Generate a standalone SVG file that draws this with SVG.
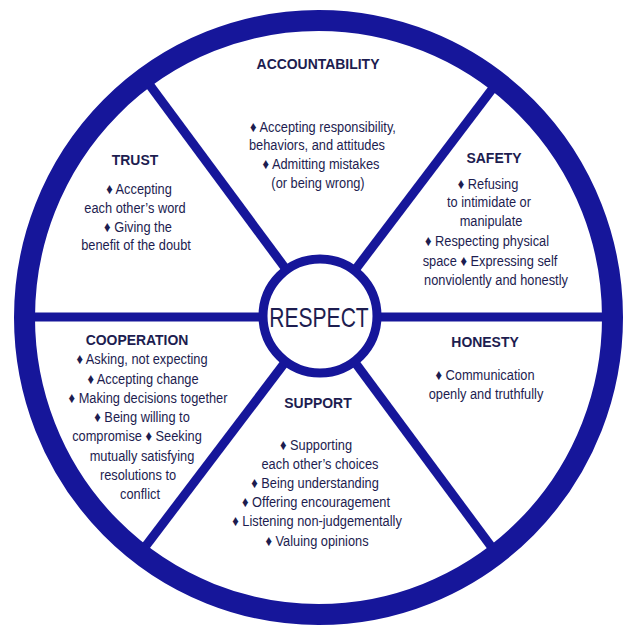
<svg xmlns="http://www.w3.org/2000/svg" width="638" height="635" viewBox="0 0 638 635">
<style>
.t{font-family:"Liberation Sans",Arial,sans-serif;fill:#1d1d50;text-anchor:middle;}
.h{font-size:15.5px;font-weight:bold;}
.b{font-size:15px;}
.sp{stroke:#16169a;stroke-width:9;fill:none;}
</style>
<rect width="638" height="635" fill="#ffffff"/>
<g id="connectors">
<line class="sp" x1="20" y1="317" x2="617" y2="317"/>
<line class="sp" x1="146" y1="80" x2="496" y2="553"/>
<line class="sp" x1="496" y1="84" x2="142" y2="551"/>
</g>
<g id="ring">
<ellipse cx="318.5" cy="317.5" rx="294" ry="297" fill="none" stroke="#16169a" stroke-width="21"/>
</g>
<g id="respect">
<circle cx="320" cy="316" r="57" fill="#ffffff" stroke="#16169a" stroke-width="9"/>
<text class="t" font-size="27" transform="translate(319 327) scale(0.78 1)">RESPECT</text>
</g>
<g id="accountability">
<text class="t h" transform="translate(318 69) scale(0.9 1)">ACCOUNTABILITY</text>
<text class="t b" transform="translate(323 132) scale(0.855 1)">♦ Accepting responsibility,</text>
<text class="t b" transform="translate(317 150) scale(0.855 1)">behaviors, and attitudes</text>
<text class="t b" transform="translate(321 169) scale(0.855 1)">♦ Admitting mistakes</text>
<text class="t b" transform="translate(318 188) scale(0.855 1)">(or being wrong)</text>
</g>
<g id="trust">
<text class="t h" transform="translate(135 165) scale(0.9 1)">TRUST</text>
<text class="t b" transform="translate(139 194) scale(0.855 1)">♦ Accepting</text>
<text class="t b" transform="translate(135 213) scale(0.855 1)">each other’s word</text>
<text class="t b" transform="translate(138 232) scale(0.855 1)">♦ Giving the</text>
<text class="t b" transform="translate(136 250) scale(0.855 1)">benefit of the doubt</text>
</g>
<g id="safety">
<text class="t h" transform="translate(494 163) scale(0.9 1)">SAFETY</text>
<text class="t b" transform="translate(488 189) scale(0.855 1)">♦ Refusing</text>
<text class="t b" transform="translate(489 207) scale(0.855 1)">to intimidate or</text>
<text class="t b" transform="translate(491 226) scale(0.855 1)">manipulate</text>
<text class="t b" transform="translate(487 246) scale(0.855 1)">♦ Respecting physical</text>
<text class="t b" transform="translate(490 266) scale(0.855 1)">space ♦ Expressing self</text>
<text class="t b" transform="translate(496 285) scale(0.855 1)">nonviolently and honestly</text>
</g>
<g id="honesty">
<text class="t h" transform="translate(485 347) scale(0.9 1)">HONESTY</text>
<text class="t b" transform="translate(485 380) scale(0.855 1)">♦ Communication</text>
<text class="t b" transform="translate(486 399) scale(0.855 1)">openly and truthfully</text>
</g>
<g id="cooperation">
<text class="t h" transform="translate(137 345) scale(0.9 1)">COOPERATION</text>
<text class="t b" transform="translate(142 364) scale(0.855 1)">♦ Asking, not expecting</text>
<text class="t b" transform="translate(143 384) scale(0.855 1)">♦ Accepting change</text>
<text class="t b" transform="translate(148 403) scale(0.855 1)">♦ Making decisions together</text>
<text class="t b" transform="translate(142 422) scale(0.855 1)">♦ Being willing to</text>
<text class="t b" transform="translate(137 441) scale(0.855 1)">compromise ♦ Seeking</text>
<text class="t b" transform="translate(142 461) scale(0.855 1)">mutually satisfying</text>
<text class="t b" transform="translate(138 480) scale(0.855 1)">resolutions to</text>
<text class="t b" transform="translate(140 499) scale(0.855 1)">conflict</text>
</g>
<g id="support">
<text class="t h" transform="translate(318 408) scale(0.9 1)">SUPPORT</text>
<text class="t b" transform="translate(316 450) scale(0.855 1)">♦ Supporting</text>
<text class="t b" transform="translate(320 469) scale(0.855 1)">each other’s choices</text>
<text class="t b" transform="translate(315 488) scale(0.855 1)">♦ Being understanding</text>
<text class="t b" transform="translate(316 507) scale(0.855 1)">♦ Offering encouragement</text>
<text class="t b" transform="translate(317 526) scale(0.855 1)">♦ Listening non-judgementally</text>
<text class="t b" transform="translate(317 546) scale(0.855 1)">♦ Valuing opinions</text>
</g>
</svg>
